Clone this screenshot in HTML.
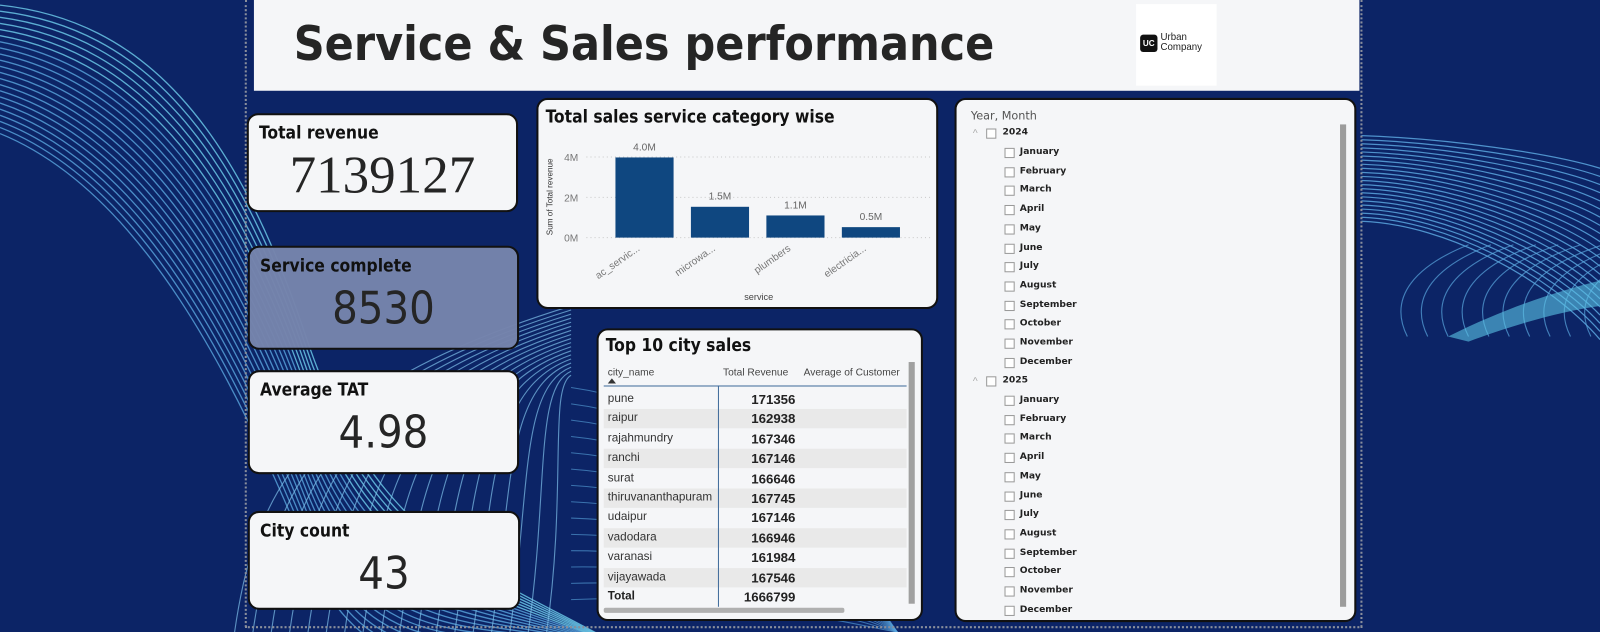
<!DOCTYPE html>
<html><head><meta charset="utf-8"><style>
html,body{margin:0;padding:0;width:1600px;height:632px;overflow:hidden;background:#0c2466;font-family:"Liberation Sans",sans-serif}
#wrap{position:absolute;left:0;top:0;width:1569px;height:620px;transform:scale(1.0198);transform-origin:0 0}
.abs{position:absolute}
.card{position:absolute;background:#f5f6f8;border:2px solid #111;border-radius:11px;box-sizing:border-box}
.kt{position:absolute;left:10px;font-weight:bold;font-size:17px;color:#111;font-family:"DejaVu Sans Condensed","DejaVu Sans",sans-serif}
.kv{position:absolute;left:0;right:0;text-align:center;color:#252525}
.row{position:absolute;left:592px;width:297px;height:19px;font-size:11.5px;color:#333}
.row span{position:absolute;top:3px}
.sl{position:absolute;font-size:9px;font-weight:bold;color:#222;font-family:"DejaVu Sans",sans-serif}
.cb{position:absolute;width:8px;height:8px;border:1px solid #999;background:#fff}
</style></head><body>
<div id="wrap">
<svg class="abs" style="left:0;top:0" width="1569" height="620" id="bg"></svg>

<div class="abs" style="left:240px;top:0;width:0;height:615px;border-left:2px dotted #8a8f9c"></div>
<div class="abs" style="left:1334px;top:0;width:0;height:615px;border-left:2px dotted #8a8f9c"></div>
<div class="abs" style="left:240px;top:614px;width:1096px;height:0;border-top:2px dotted #8a8f9c"></div>

<div class="abs" style="left:249px;top:0;width:1084px;height:89px;background:#f5f6f8">
<svg width="1084" height="89" class="abs" style="left:0;top:0"><text x="39" y="59" font-family="DejaVu Sans,sans-serif" font-weight="bold" font-size="46" fill="#252525" textLength="687" lengthAdjust="spacingAndGlyphs">Service &amp;  Sales performance</text></svg>
<div class="abs" style="left:865px;top:4px;width:79px;height:80px;background:#fff">
<div class="abs" style="left:4px;top:30px;width:17px;height:17px;background:#111;border-radius:3px;color:#fff;font-size:8px;font-weight:bold;text-align:center;line-height:17px">UC</div>
<div class="abs" style="left:24px;top:28px;font-size:9.5px;line-height:10px;color:#222">Urban<br>Company</div>
</div>
</div>

<div class="card" style="left:242px;top:111px;width:266px;height:97px">
<div class="kt" style="top:8px">Total revenue</div>
<div class="kv" style="top:30px;font-family:'Liberation Serif',serif;font-size:52px">7139127</div></div>
<div class="card" style="left:243px;top:241px;width:266px;height:102px;background:rgba(118,132,172,0.97)">
<div class="kt" style="top:8px">Service complete</div>
<div class="kv" style="top:34px;font-family:'DejaVu Sans Condensed',sans-serif;font-size:44px">8530</div></div>
<div class="card" style="left:243px;top:363px;width:266px;height:102px">
<div class="kt" style="top:8px">Average TAT</div>
<div class="kv" style="top:34px;font-family:'DejaVu Sans Condensed',sans-serif;font-size:44px">4.98</div></div>
<div class="card" style="left:243px;top:501px;width:267px;height:97px">
<div class="kt" style="top:8px">City count</div>
<div class="kv" style="top:34px;font-family:'DejaVu Sans Condensed',sans-serif;font-size:44px">43</div></div>

<div class="card" style="left:526px;top:96px;width:394px;height:207px"></div>
<svg class="abs" style="left:0;top:0" width="1569" height="620" id="chart"></svg>

<div class="card" style="left:585px;top:322px;width:320px;height:287px">
<div class="abs" style="left:7px;top:5px;font-weight:bold;font-size:17px;color:#111;font-family:'DejaVu Sans Condensed','DejaVu Sans',sans-serif">Top 10 city sales</div></div>
<div id="table"></div>

<div class="card" style="left:936px;top:96px;width:394px;height:514px">
<div class="abs" style="left:14px;top:9px;font-size:11px;color:#555;font-family:'DejaVu Sans',sans-serif">Year, Month</div>
<div class="abs" style="left:376px;top:24px;width:6px;height:473px;background:#9c9c9c"></div>
</div>
<div id="slicer"></div>
</div>
<script>
// ===== background =====
const bg=document.getElementById('bg');
let s='';
for(let i=0;i<22;i++){
 s+=`<path d="M0 ${5+i*6} C140 ${20+i*8} 230 ${120+i*12} 300 ${330+i*10} S480 ${560+i*3} 620 ${640}" fill="none" stroke="${i<6?'#6fd0ee':'#5aa6de'}" stroke-width="1.3" opacity="0.8"/>`;
}
for(let i=0;i<18;i++){
 s+=`<path d="M${230+i*18} 620 C${250+i*18} 480 ${300+i*14} 380 ${560} ${300+i*4}" fill="none" stroke="#7fc0ea" stroke-width="1.1" opacity="0.7"/>`;
}
for(let i=0;i<22;i++){
 s+=`<path d="M1335 ${133+i*4} C1420 ${136+i*4} 1520 ${150+i*6} 1569 ${165+i*8}" fill="none" stroke="#5aa6de" stroke-width="1.2" opacity="0.85"/>`;
}
for(let i=0;i<10;i++){
 s+=`<path d="M${1380+i*20} 330 C${1360+i*20} 290 ${1390+i*20} 260 ${1440+i*22} 240" fill="none" stroke="#5aa6de" stroke-width="1.1" opacity="0.7"/>`;
}
s+=`<path d="M1420 330 C1480 300 1530 285 1569 275 L1569 300 C1530 305 1480 320 1440 335Z" fill="#5cc4e6" opacity="0.6"/>`;
for(let i=0;i<14;i++){
 s+=`<path d="M560 ${380+i*16} C700 ${400+i*14} 800 ${500+i*8} 880 620" fill="none" stroke="#5aa6de" stroke-width="1" opacity="0.6"/>`;
}
bg.innerHTML=s;

// ===== chart data =====
const categories=["ac_servic...","microwa...","plumbers","electricia..."];
const values=[3.98,1.53,1.10,0.52];
const valueLabels=["4.0M","1.5M","1.1M","0.5M"];
const yTicks=[0,2,4];
const yTickLabels=["0M","2M","4M"];

const ch=document.getElementById('chart');
const NS='http://www.w3.org/2000/svg';
const y0=233,yTop=154,yMaxVal=4;
const yScale=v=>y0-(v/yMaxVal)*(y0-yTop);
const bandStart=595,bandW=74,barW=57;
const xScale=i=>bandStart+i*bandW+(bandW-barW)/2;
function mk(tag,attrs,text){const e=document.createElementNS(NS,tag);for(const k in attrs)e.setAttribute(k,attrs[k]);if(text!==undefined)e.textContent=text;ch.appendChild(e);return e;}
let t=mk('text',{x:535,y:120,'font-size':17,'font-weight':'bold','font-family':'DejaVu Sans Condensed,DejaVu Sans,sans-serif',fill:'#111'},'Total sales service category wise');


yTicks.forEach((v,i)=>{
 const g=mk('line',{x1:575,x2:912,y1:yScale(v),y2:yScale(v),stroke:'#c8c8c8','stroke-dasharray':'1,3'});
 
 
 const l=mk('text',{x:567,y:yScale(v)+4,'text-anchor':'end','font-size':10,fill:'#777'},yTickLabels[i]);
 
 
});
t=mk('text',{x:0,y:0,transform:'translate(542,193) rotate(-90)','text-anchor':'middle','font-size':8,fill:'#333'},'Sum of Total revenue');


categories.forEach((c,i)=>{
 const x=xScale(i);
 const b=mk('rect',{x:x,y:yScale(values[i]),width:barW,height:y0-yScale(values[i]),fill:'#0f4780'});
 
 
 const vl=mk('text',{x:x+barW/2,y:yScale(values[i])-7,'text-anchor':'middle','font-size':10,fill:'#666'},valueLabels[i]);
 
 
 const cx=x+barW/2-4;
 const xl=mk('text',{x:0,y:0,transform:`translate(${cx},245) rotate(-35)`,'text-anchor':'end','font-size':10,fill:'#777'},c);
 
 
});
t=mk('text',{x:744,y:294,'text-anchor':'middle','font-size':9,fill:'#444'},'service');



// ===== table data =====
const cities=["pune","raipur","rajahmundry","ranchi","surat","thiruvananthapuram","udaipur","vadodara","varanasi","vijayawada"];
const revenues=[171356,162938,167346,167146,166646,167745,167146,166946,161984,167546];
const totalRevenue=1666799;
const tb=document.getElementById('table');
let h=`<div class="abs" style="left:596px;top:360px;font-size:10px;color:#444">city_name</div>
<div class="abs" style="left:596px;top:371px;width:0;height:0;border-left:4px solid transparent;border-right:4px solid transparent;border-bottom:5px solid #333"></div>
<div class="abs" style="left:709px;top:360px;font-size:10px;color:#444">Total Revenue</div>
<div class="abs" style="left:788px;top:360px;width:101px;overflow:hidden;white-space:nowrap;font-size:10px;color:#444">Average of Customer</div>
<div class="abs" style="left:592px;top:378px;width:297px;height:1px;background:#3f6a9a"></div>`;
tb.innerHTML=h;
cities.forEach((c,i)=>{
 const r=document.createElement('div');
 r.className='row';
 r.style.top=(382+i*19.4)+'px';
 r.style.background=i%2?'#e9e9e9':'transparent';
 r.innerHTML=`<span style="left:4px">${c}</span><span style="right:109px;font-weight:bold;font-size:13px;top:2px;color:#222">${revenues[i]}</span>`;
 
 
 tb.appendChild(r);
});
const tr=document.createElement('div');
tr.className='row';
tr.style.top=(382+10*19.4)+'px';
tr.innerHTML=`<span style="left:4px;font-weight:bold;color:#222">Total</span><span style="right:109px;font-weight:bold;font-size:13px;top:2px;color:#222">${totalRevenue}</span>`;


tb.appendChild(tr);
const extra=document.createElement('div');
extra.innerHTML=`<div class="abs" style="left:704px;top:378px;width:1px;height:217px;background:#3f6a9a"></div>
<div class="abs" style="left:891px;top:355px;width:6px;height:237px;background:#a0a0a0"></div>
<div class="abs" style="left:592px;top:596px;width:236px;height:5px;background:#b0b0b0;border-radius:2px"></div>`;
tb.appendChild(extra);

// ===== slicer =====
const years=["2024","2025"];
const months=["January","February","March","April","May","June","July","August","September","October","November","December"];
const sl=document.getElementById('slicer');
years.forEach((y,yi)=>{
 const base=131+yi*243;
 const yr=document.createElement('div');
 yr.innerHTML=`<div class="abs" style="left:954px;top:${base-5}px;font-size:10px;color:#aaa">^</div><div class="cb" style="left:967px;top:${base-5}px"></div><div class="sl" style="left:983px;top:${base-6}px">${y}</div>`;
 
 
 sl.appendChild(yr);
 months.forEach((m,mi)=>{
  const yy=base+19+mi*18.7;
  const d=document.createElement('div');
  d.innerHTML=`<div class="cb" style="left:985px;top:${yy-5}px"></div><div class="sl" style="left:1000px;top:${yy-6}px">${m}</div>`;
  
  
  sl.appendChild(d);
 });
});
</script>
</body></html>
